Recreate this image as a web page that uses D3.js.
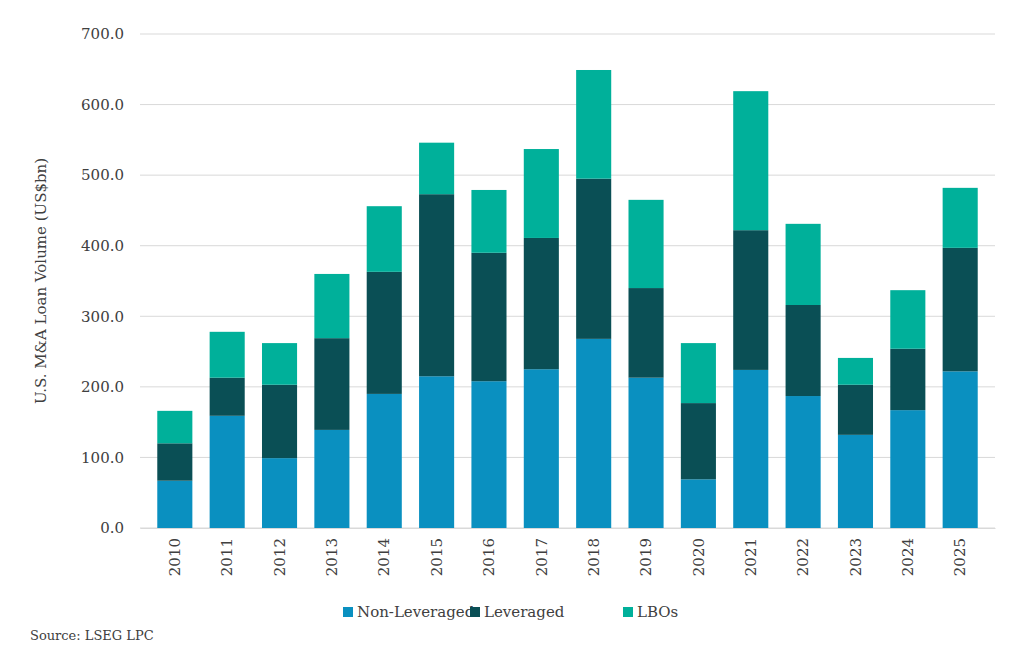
<!DOCTYPE html>
<html><head><meta charset="utf-8">
<script src="https://cdn.jsdelivr.net/npm/d3@7"></script>
<style>body{margin:0;background:#fff;} text{font-family:"DejaVu Serif",Georgia,serif;fill:#404040;}</style>
</head><body><div id="chart"></div>
<script>
var years=["2010","2011","2012","2013","2014","2015","2016","2017","2018","2019","2020","2021","2022","2023","2024","2025"];
var nonLev=[67,159,99,139,190,215,208,225,268,213,69,224,187,132,167,222];
var lev=[53,54,104,130,173,258,182,186,227,127,108,198,129,71,87,175];
var lbos=[46,65,59,91,93,73,89,126,154,125,85,197,115,38,83,85];
var yTicks=[0,100,200,300,400,500,600,700];
var seriesNames=["Non-Leveraged","Leveraged","LBOs"];
var colors=["#0a90c0","#0a4f55","#00b09a"];

var svg=d3.select("#chart").append("svg").attr("width",1024).attr("height",656);
var x=d3.scaleBand().domain(years).range([140,995]).padding(0.33);
var y=d3.scaleLinear().domain([0,700]).range([528,34]);

svg.append("g").selectAll("line").data(yTicks).enter().append("line")
  .attr("x1",140).attr("x2",995).attr("y1",d=>y(d)).attr("y2",d=>y(d))
  .attr("stroke","#d9d9d9").attr("stroke-width",1);

var yAxis=svg.append("g").attr("transform","translate(140,0)")
  .call(d3.axisLeft(y).tickValues(yTicks).tickFormat(d3.format(".1f")).tickSize(0).tickPadding(16));
yAxis.select(".domain").remove();
yAxis.selectAll("text").style("font-size","15px").style("font-family","DejaVu Serif").attr("fill","#404040");

var rows=years.map((yr,i)=>({year:yr,nl:nonLev[i],lev:lev[i],lbo:lbos[i]}));
var stack=d3.stack().keys(["nl","lev","lbo"])(rows);
svg.append("g").selectAll("g").data(stack).enter().append("g")
  .attr("fill",(d,i)=>colors[i])
  .selectAll("rect").data(d=>d).enter().append("rect")
  .attr("x",d=>x(d.data.year)).attr("width",x.bandwidth())
  .attr("y",d=>y(d[1])).attr("height",d=>y(d[0])-y(d[1]));

var xAxis=svg.append("g").attr("transform","translate(0,528)")
  .call(d3.axisBottom(x).tickSize(0));
xAxis.select(".domain").attr("stroke","#d9d9d9");
xAxis.selectAll("text").style("font-size","15px").style("font-family","DejaVu Serif").attr("fill","#404040")
  .attr("transform","rotate(-90)").attr("text-anchor","end").attr("x",-10).attr("y",0).attr("dy","0.35em");

svg.append("text").attr("transform","translate(46,281) rotate(-90)").attr("text-anchor","middle")
  .style("font-size","15px").text("U.S. M&A Loan Volume (US$bn)");

var lg=svg.append("g");
var lx=[343,470,623];
seriesNames.forEach((n,i)=>{
  lg.append("rect").attr("x",lx[i]).attr("y",607).attr("width",10).attr("height",10).attr("fill",colors[i]);
  lg.append("text").attr("x",lx[i]+14).attr("y",617).style("font-size","15px").text(n);
});
svg.append("text").attr("x",30).attr("y",640).style("font-size","13px").attr("fill","#222").text("Source:  LSEG LPC");
</script></body></html>
